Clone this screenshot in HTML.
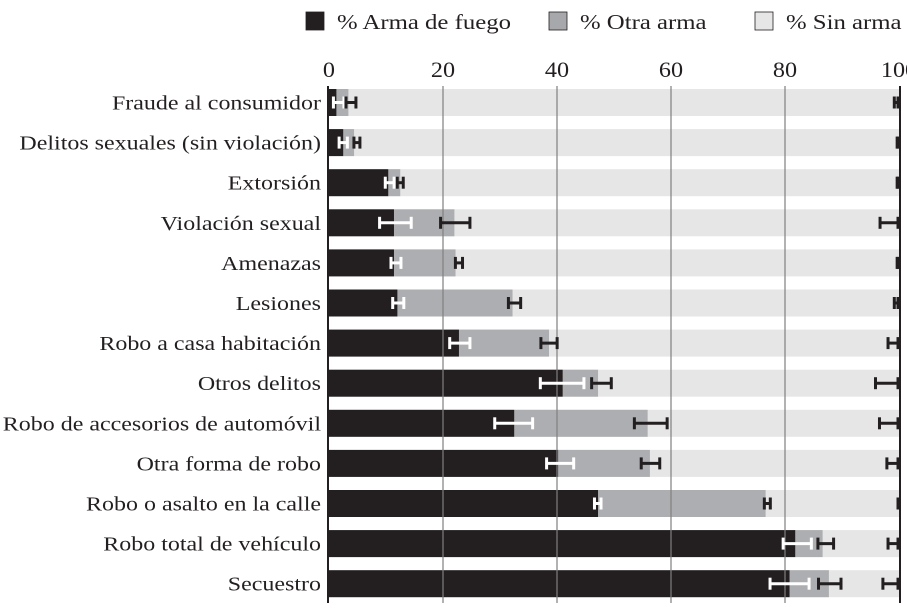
<!DOCTYPE html>
<html><head><meta charset="utf-8"><style>
body{margin:0;background:#fff;width:907px;height:606px;overflow:hidden}
text{font-family:"Liberation Serif",serif;fill:#231f20}
</style></head><body>
<svg id="c" width="907" height="606" xmlns="http://www.w3.org/2000/svg"></svg>
<script>
const categories=["Fraude al consumidor","Delitos sexuales (sin violación)","Extorsión","Violación sexual","Amenazas","Lesiones","Robo a casa habitación","Otros delitos","Robo de accesorios de automóvil","Otra forma de robo","Robo o asalto en la calle","Robo total de vehículo","Secuestro"];
const firearm=[1.3,2.5,10.4,11.4,11.4,12.0,22.8,41.0,32.5,40.2,47.2,81.8,80.8];
const otherWeapon=[2.1,1.9,2.1,10.6,10.8,20.2,15.8,6.2,23.4,16.1,29.4,4.8,6.9];
const firearmErrLo=[0.6,1.6,9.7,8.7,10.7,11.0,21.0,36.9,28.9,38.0,46.4,79.5,77.2];
const firearmErrHi=[2.8,3.4,11.6,14.6,12.8,13.3,24.9,44.9,35.9,43.1,47.9,84.8,84.4];
const otherErrLo=[2.8,4.2,11.8,19.4,22.0,31.3,37.0,45.9,53.4,54.6,76.2,85.6,85.7];
const otherErrHi=[4.9,5.6,13.2,24.9,23.6,33.8,40.2,49.7,59.5,58.2,77.6,88.7,90.0];
const noneErrLo=[99.0,99.5,99.5,96.5,99.5,99.0,97.9,95.7,96.4,97.7,99.7,97.9,97.0];
const xTicks=[0,20,40,60,80,100];
const legendLabels=["% Arma de fuego","% Otra arma","% Sin arma"];

const svg=document.getElementById('c');const NS='http://www.w3.org/2000/svg';
const x=v=>329+v*5.7;const yc=i=>102.5+i*40.1;const BH=27;
function mk(t,a,p){const e=document.createElementNS(NS,t);for(const k in a)e.setAttribute(k,a[k]);(p||svg).appendChild(e);return e;}
function sx(tx,px,f){tx.setAttribute('transform','translate('+px+',0) scale('+f+',1) translate('+(-px)+',0)');}
// legend
const lx=[306,549,755],lc=["#231f20","#a7a8ab","#e6e6e6"];
legendLabels.forEach((l,i)=>{
 const r=mk('rect',{x:lx[i],y:12,width:18,height:18,fill:lc[i],stroke:'#231f20','stroke-width':0.8});
 
 
 const t=mk('text',{x:lx[i]+31,y:29,'font-size':21});t.textContent=l;
 sx(t,lx[i]+31,1.18);
 
 
});
// ticks
xTicks.forEach(v=>{
 const t=mk('text',{x:x(v),y:77,'font-size':22,'text-anchor':'middle'});t.textContent=v;
 sx(t,x(v),1.1);
 
 
});
// bars
categories.forEach((c,i)=>{
 const y0=yc(i)-BH/2;
 const b3=mk('rect',{x:x(0),y:y0,width:x(100)-x(0),height:BH,fill:'#e6e6e6'});
 
 
 const b2=mk('rect',{x:x(firearm[i]),y:y0,width:x(otherWeapon[i])-x(0),height:BH,fill:'#adaeb1'});
 
 
 const b1=mk('rect',{x:x(0),y:y0,width:x(firearm[i])-x(0),height:BH,fill:'#231f20'});
 
 
 const t=mk('text',{x:321,y:yc(i)+7,'font-size':20.5,'text-anchor':'end'});t.textContent=c;
 sx(t,321,1.17);
 
 
});
// gridlines
xTicks.slice(1,5).forEach(v=>{
 const g=mk('line',{x1:x(v),x2:x(v),y1:86,y2:603,stroke:'#808080','stroke-width':1.5,'stroke-opacity':0.8});
 
 
});
// axes
const a1=mk('line',{x1:328,x2:328,y1:86,y2:603,stroke:'#231f20','stroke-width':2});


const a2=mk('line',{x1:900,x2:900,y1:86,y2:603,stroke:'#231f20','stroke-width':2});


// error bars
function err(lo,hi,y,col){
 const g=mk('g',{stroke:col,'stroke-width':3});
 mk('line',{x1:x(lo),x2:x(hi),y1:y,y2:y},g);
 mk('line',{x1:x(lo)+1,x2:x(lo)+1,y1:y-6,y2:y+6},g);
 mk('line',{x1:x(hi)-1,x2:x(hi)-1,y1:y-6,y2:y+6},g);
 return g;
}
categories.forEach((c,i)=>{
 const y=yc(i);
 const e1=err(firearmErrLo[i],firearmErrHi[i],y,'#fff');
 
 
 const e2=err(otherErrLo[i],otherErrHi[i],y,'#231f20');
 
 
 const e3=err(noneErrLo[i],100,y,'#231f20');
 
 
});
</script>
</body></html>
